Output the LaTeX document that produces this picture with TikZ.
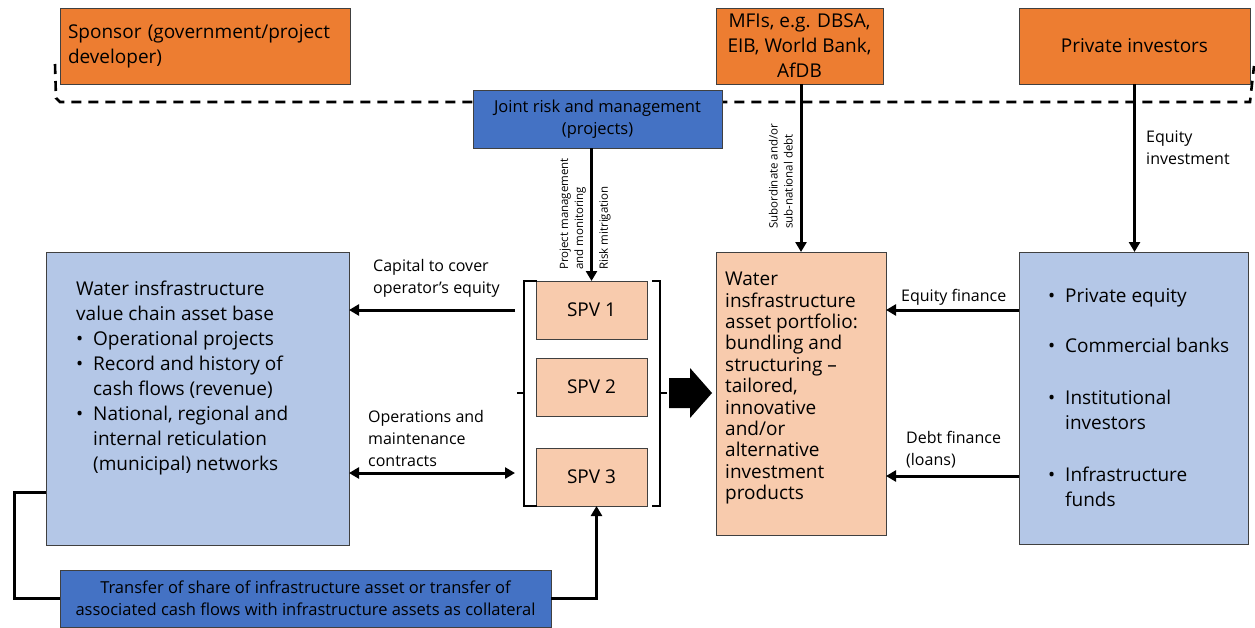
\documentclass[tikz,border=0pt]{standalone}
\usepackage{fontspec}
\setmainfont{Open Sans}
\usetikzlibrary{positioning}
\usetikzlibrary{arrows.meta}

\definecolor{orangebox}{HTML}{ED7D31}
\definecolor{bluebox}{HTML}{4472C4}
\definecolor{paleblue}{HTML}{B4C7E7}
\definecolor{peach}{HTML}{F8CBAD}
\definecolor{boxline}{HTML}{404040}

\newcommand{\bpoint}[1]{\makebox[17pt][l]{\textbullet}#1}
\newcommand{\bcont}[1]{\hspace*{17pt}#1}

\begin{document}
\begin{tikzpicture}[
        x = 1pt, y = -1pt,
        box/.style = {
            draw = boxline,
            line width = 0.8pt,
            anchor = north west,
            inner sep = 0pt,
            outer sep = 0pt,
            font = \fontsize{19}{25}\selectfont
        },
        txt/.style = {
            anchor = north west,
            inner sep = 0pt,
            align = left,
            font = \fontsize{#1}{25}\selectfont
        },
        txt/.default = 19,
        lab/.style = {
            anchor = north west,
            inner sep = 0pt,
            align = left,
            font = \fontsize{16}{22}\selectfont
        },
        vlab/.style = {
            rotate = 90,
            inner sep = 0pt,
            align = left,
            font = \fontsize{11.5}{15}\selectfont
        },
        flow/.style = {
            line width = 3pt,
            -{Triangle[length=10pt, width=11pt]}
        },
        twoway/.style = {
            line width = 3pt,
            {Triangle[length=10pt, width=11pt]}-{Triangle[length=10pt, width=11pt]}
        },
        brace/.style = {line width = 1.8pt}
        ]
        \useasboundingbox (0,0) rectangle (1255,627);
%
        \draw[line width = 2.6pt, dash pattern = on 10pt off 7pt]
                (55,64) -- (56,98) -- (60,102) -- (1250,102) -- (1254,66);
%
        \node[box, fill=orangebox, minimum width=290, minimum height=76,
              text width=274, align=left] (sponsor) at (60,8)
              {Sponsor (government/project\\developer)};
        \node[box, fill=orangebox, minimum width=167, minimum height=76,
              align=center] (mfi) at (716,8)
              {MFIs, e.g. DBSA,\\EIB, World Bank,\\AfDB};
        \node[box, fill=orangebox, minimum width=231, minimum height=76] (private) at (1019,8)
              {Private investors};
%
        \node[box, fill=bluebox, minimum width=249, minimum height=58, align=center,
              font=\fontsize{16.5}{22}\selectfont] (joint) at (473,90)
              {Joint risk and management\\(projects)};
%
        \node[box, fill=peach, minimum width=111, minimum height=58] (spv1) at (536,281) {SPV 1};
        \node[box, fill=peach, minimum width=111, minimum height=58] (spv2) at (536,358) {SPV 2};
        \node[box, fill=peach, minimum width=111, minimum height=58] (spv3) at (536,448) {SPV 3};
%
        \node[box, fill=paleblue, minimum width=303, minimum height=293] (asset) at (46,252) {};
        \node[txt] (assettxt) at (76,281)
              {Water insfrastructure\\value chain asset base\\
               \bpoint{Operational projects}\\
               \bpoint{Record and history of}\\\bcont{cash flows (revenue)}\\
               \bpoint{National, regional and}\\\bcont{internal reticulation}\\
               \bcont{(municipal) networks}};
%
        \node[box, fill=peach, minimum width=170, minimum height=283] (portfolio) at (716,252) {};
        \node[txt, font=\fontsize{19}{21.4}\selectfont] (portfoliotxt) at (725,272)
              {Water\\insfrastructure\\asset portfolio:\\bundling and\\structuring --\\tailored,\\
               innovative\\and/or\\alternative\\investment\\products};
%
        \node[box, fill=paleblue, minimum width=229, minimum height=292] (investors) at (1019,252) {};
        \node[txt] (investorstxt) at (1048,288)
              {\bpoint{Private equity}\\[25pt]
               \bpoint{Commercial banks}\\[27pt]
               \bpoint{Institutional}\\\bcont{investors}\\[27pt]
               \bpoint{Infrastructure}\\\bcont{funds}};
%
        \node[box, fill=bluebox, minimum width=491, minimum height=57, align=center,
              font=\fontsize{16.5}{22}\selectfont] (transfer) at (60,570)
              {Transfer of share of infrastructure asset or transfer of\\
               associated cash flows with infrastructure assets as collateral};
%
% block arrow into the portfolio
        \coordinate (bigarrow) at (669,393);
        \fill (bigarrow) ++(0,-15) -- ++(21,0) -- ++(0,-10) -- ++(22,25)
                         -- ++(-22,25) -- ++(0,-10) -- ++(-21,0) -- cycle;
%
% brackets round the SPVs
        \draw[brace] ([xshift=1pt]spv1.north west) -- ++(-13,0) |- ([xshift=1pt]spv3.south west);
        \draw[brace] ([xshift=-12pt]spv2.west |- 0,393) -- ++(-7,0);
        \draw[brace] ([xshift=5pt]spv1.north east) -- ++(8,0) |- ([xshift=5pt]spv3.south east);
        \draw[brace] ([xshift=13pt]spv2.east |- 0,393) -- ++(7,0);
%
% labels
        \node[lab] (caplab) at (373,259) {Capital to cover\\operator’s equity};
        \node[lab] (opslab) at (368,410) {Operations and\\maintenance\\contracts};
        \node[lab] (eqlab) at (901,289) {Equity finance};
        \node[lab] (debtlab) at (906,431) {Debt finance\\(loans)};
        \node[lab] (eqinvlab) at (1146,131) {Equity\\investment};
        \node[vlab, anchor=south west] (pmlab) at (586,270) {Project management\\and monitoring};
        \node[vlab, anchor=north west] (risklab) at (599,270) {Risk mitrigation};
        \node[vlab, anchor=south west] (sublab) at (793,229) {Subordinate and/or\\sub-national debt};
%
% connectors
        \coordinate (capy) at (0,310);
        \coordinate (opsy) at (0,473);
        \coordinate (capstart) at (515,310);
        \coordinate (opsend) at (515,473);
        \draw[flow] (spv1.north |- joint.south) -- (spv1.north);
        \draw[flow] (portfolio.north |- mfi.south) -- (portfolio.north);
        \draw[flow] (private.south) -- (private.south |- investors.north);
        \draw[flow] (capstart) -- (asset.east |- capy);
        \draw[twoway] (asset.east |- opsy) -- (opsend);
        \draw[flow] (investors.west |- capy) -- (portfolio.east |- capy);
        \draw[flow] (investors.west |- 0,476) -- (portfolio.east |- 0,476);
        \draw[line width = 3pt] (asset.west |- 0,492) -- ++(-32,0) |- (transfer.west);
        \draw[flow] (transfer.east) -| ([xshift=5pt]spv3.south);
    \end{tikzpicture}
\end{document}
